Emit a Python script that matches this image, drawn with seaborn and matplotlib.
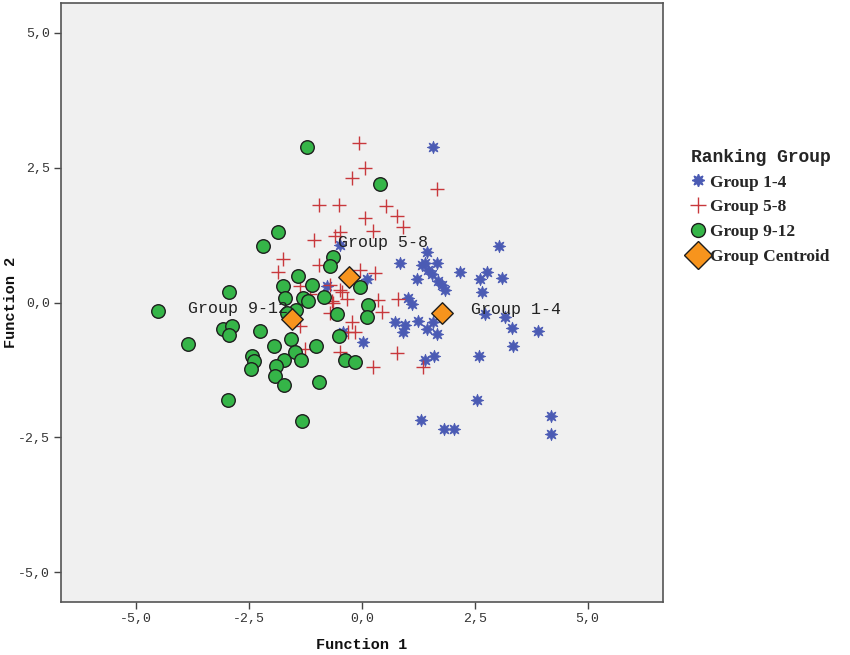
import numpy as np
import pandas as pd
import matplotlib
matplotlib.use("Agg")
import matplotlib.pyplot as plt
import seaborn as sns
from matplotlib.lines import Line2D

# ---------------- data ----------------
g14_x = [1.57, 3.04, 0.84, 1.44, 1.33, 1.46, 1.66, 1.22, 1.55, 1.69, 1.77, 1.84, 2.17, 2.62, 2.77,
         2.66, 3.10, 1.02, 1.11, 2.73, 3.17, 0.73, 0.95, 0.91, 1.24, 1.44, 1.57, 1.66, 3.33, 3.90,
         3.35, 1.40, 1.60, 2.59, 2.55, 1.31, 1.82, 2.04, 4.19, 4.19, 0.11, -0.49, 0.02, -0.42, 1.40,
         -0.78]
g14_y = [2.89, 1.04, 0.74, 0.93, 0.70, 0.61, 0.74, 0.43, 0.52, 0.39, 0.33, 0.24, 0.56, 0.43, 0.56,
         0.20, 0.46, 0.09, -0.02, -0.22, -0.26, -0.37, -0.41, -0.54, -0.35, -0.50, -0.37, -0.59, -0.48, -0.52,
         -0.81, -1.06, -1.00, -1.00, -1.81, -2.17, -2.35, -2.35, -2.11, -2.44, 0.44, 1.06, -0.74, -0.54, 0.74,
         0.30]

g58_x = [-0.07, 0.07, -0.22, 1.66, -0.95, -0.51, 0.53, 0.07, 0.78, 0.24, 0.91, -1.06, -0.60, -0.49,
         -1.75, -1.86, -0.95, -0.04, 0.29, 0.80, 0.44, 0.78, 1.35, -1.37, -0.71, -0.44, -0.33, -0.64,
         -0.71, 0.35, -0.22, -0.16, -0.31, -0.49, -1.26, 0.24, -1.15, -0.49, -0.66, -1.37]
g58_y = [2.96, 2.50, 2.31, 2.11, 1.81, 1.80, 1.78, 1.57, 1.60, 1.33, 1.39, 1.15, 1.24, 1.30,
         0.81, 0.57, 0.70, 0.61, 0.54, 0.07, -0.17, -0.94, -1.19, 0.31, 0.33, 0.19, 0.07, 0.00,
         -0.19, 0.04, -0.37, -0.54, -0.54, -0.91, -0.87, -1.20, 0.15, 0.24, 0.02, -0.44]

g912_x = [-1.22, -1.86, -2.19, -1.42, 0.40, -0.64, -0.71, -4.52, -2.95, -3.86, -3.08, -2.88, -2.95,
          -2.26, -2.97, -1.33, -2.44, -2.39, -2.46, -1.95, -1.57, -1.49, -1.73, -1.35, -1.91, -1.93,
          -1.73, -1.02, -0.95, -1.75, -1.71, -1.11, -1.31, -1.20, -1.46, -0.84, -0.04, 0.13, 0.11,
          -0.55, -0.51, -0.38, -0.16, -1.66]
g912_y = [2.89, 1.30, 1.04, 0.50, 2.19, 0.85, 0.67, -0.15, 0.19, -0.76, -0.50, -0.43, -0.61,
          -0.52, -1.80, -2.19, -1.00, -1.09, -1.24, -0.80, -0.67, -0.91, -1.06, -1.07, -1.17, -1.37,
          -1.52, -0.81, -1.48, 0.31, 0.09, 0.33, 0.09, 0.02, -0.13, 0.11, 0.28, -0.04, -0.26,
          -0.22, -0.63, -1.07, -1.11, -0.19]

centroid_names = ["Group 1-4", "Group 5-8", "Group 9-12"]
centroid_x = [1.77, -0.29, -1.55]
centroid_y = [-0.19, 0.48, -0.31]

x_ticks = [-5.0, -2.5, 0.0, 2.5, 5.0]
y_ticks = [-5.0, -2.5, 0.0, 2.5, 5.0]
tick_labels = ["-5,0", "-2,5", "0,0", "2,5", "5,0"]

# ---------------- styling ----------------
blue = "#4B5BB4"
red = "#C8383C"
green = "#35B548"
orange = "#F7941D"

sns.set_theme(style="white")
plt.rcParams['font.family'] = ['Liberation Mono', 'DejaVu Sans Mono']

fig = plt.figure(figsize=(8.5, 6.55), dpi=100)
ax = fig.add_axes([61 / 850, 1 - 602 / 655, (663 - 61) / 850, (602 - 3) / 655])
ax.set_facecolor("#F0F0F0")

df14 = pd.DataFrame({"x": g14_x, "y": g14_y})
df58 = pd.DataFrame({"x": g58_x, "y": g58_y})
df912 = pd.DataFrame({"x": g912_x, "y": g912_y})
dfc = pd.DataFrame({"x": centroid_x, "y": centroid_y, "name": centroid_names})

sns.scatterplot(data=df14, x="x", y="y", ax=ax, marker=(8, 1, 0), s=80, color=blue,
                edgecolor=blue, linewidth=0.6, zorder=2, legend=False)
sns.scatterplot(data=df58, x="x", y="y", ax=ax, marker="+", s=110, color=red,
                linewidth=1.0, zorder=3, legend=False)
sns.scatterplot(data=df912, x="x", y="y", ax=ax, marker="o", s=95, color=green,
                edgecolor="#1E1E1E", linewidth=1.0, zorder=4, legend=False)
sns.scatterplot(data=dfc, x="x", y="y", ax=ax, marker="D", s=120, color=orange,
                edgecolor="#1E1E1E", linewidth=1.0, zorder=6, legend=False)

# centroid labels
label_pos = {"Group 1-4": (2.42, -0.13, "left"),
             "Group 5-8": (-0.53, 1.11, "left"),
             "Group 9-12": (-3.86, -0.11, "left")}
for name in centroid_names:
    lx, ly, ha = label_pos[name]
    ax.text(lx, ly, name, fontsize=12, color="#222222", ha=ha, va="center", zorder=5)

ax.set_xlim(-6.67, 6.67)
ax.set_ylim(-5.55, 5.55)
ax.set_xticks(x_ticks)
ax.set_xticklabels(tick_labels)
ax.set_yticks(y_ticks)
ax.set_yticklabels(tick_labels)
ax.tick_params(axis="both", direction="out", length=5, width=1, color="#444444",
               labelsize=9.5, labelcolor="#333333", bottom=True, left=True, pad=3)
for sp in ax.spines.values():
    sp.set_color("#555555")
    sp.set_linewidth(1.2)

ax.set_xlabel("Function 1", fontsize=11, fontweight="bold", color="#111111", labelpad=9.5)
ax.set_ylabel("Function 2", fontsize=11, fontweight="bold", color="#111111")
ax.yaxis.set_label_coords(-0.072, 0.5)

# legend
handles = [
    Line2D([], [], linestyle="none", marker=(8, 1, 0), markersize=9, color=blue, markeredgecolor=blue),
    Line2D([], [], linestyle="none", marker="+", markersize=11, color=red, markeredgewidth=1.0),
    Line2D([], [], linestyle="none", marker="o", markersize=10, markerfacecolor=green, markeredgecolor="#1E1E1E"),
    Line2D([], [], linestyle="none", marker="D", markersize=14, markerfacecolor=orange, markeredgecolor="#1E1E1E"),
]
labels = ["Group 1-4", "Group 5-8", "Group 9-12", "Group Centroid"]
leg = fig.legend(handles, labels, title="Ranking Group", loc="upper left",
                 bbox_to_anchor=(682 / 850, 1 - 140 / 655), frameon=False,
                 handlelength=0.9, handletextpad=0.2, labelspacing=0.5, borderpad=0,
                 prop={"family": "Liberation Serif", "weight": "bold", "size": 12.5},
                 alignment="left")
leg.get_title().set_fontsize(13)
leg.get_title().set_fontfamily("Liberation Mono")
leg.get_title().set_fontweight("bold")

fig.savefig("out.png", dpi=100, facecolor="white")
